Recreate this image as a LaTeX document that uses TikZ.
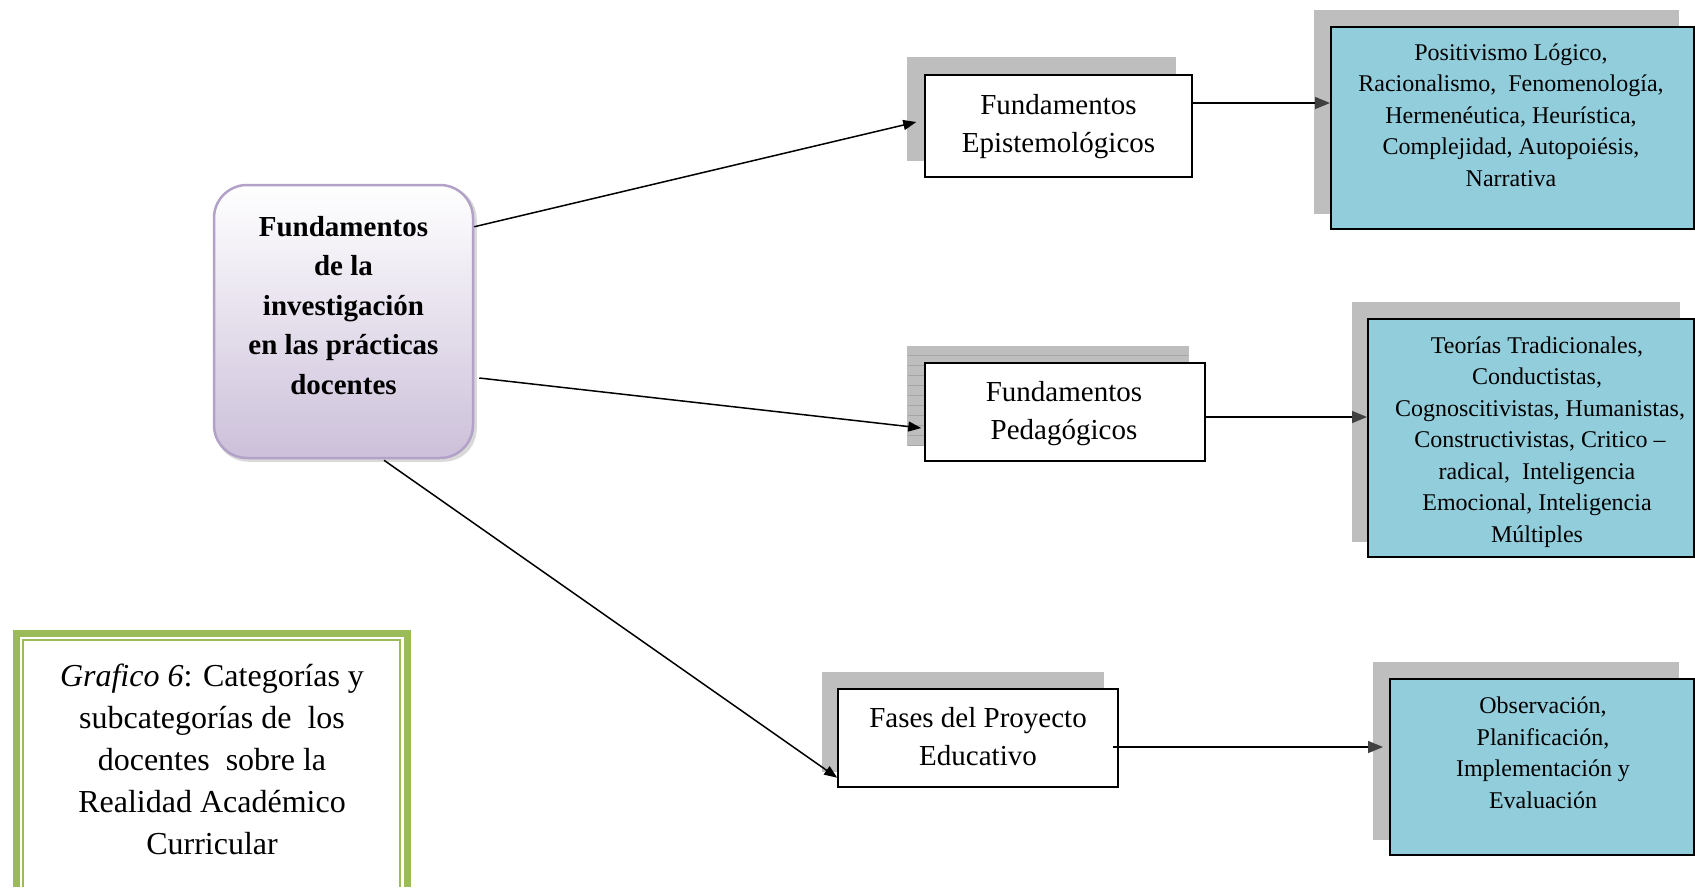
\documentclass[tikz,border=0pt]{standalone}
\usepackage{fontspec}
\setmainfont{Liberation Serif}
\usetikzlibrary{arrows.meta,backgrounds}
\definecolor{aqua}{RGB}{146,205,220}
\definecolor{shgray}{RGB}{190,190,190}
\definecolor{shline}{RGB}{165,165,165}
\definecolor{lilac}{RGB}{178,162,199}
\definecolor{lilacbot}{RGB}{204,192,218}
\definecolor{greenc}{RGB}{155,187,89}
\definecolor{arrgray}{RGB}{64,64,64}
\tikzset{
  lvltwo/.style={draw=black, line width=1.5pt, fill=white, align=center, inner sep=0pt,
    font=\fontsize{29}{38}\selectfont},
  bluebox/.style={draw=black, line width=2pt, fill=aqua, inner sep=0pt},
  bluetext/.style={align=center, inner sep=0pt, font=\fontsize{24}{31.5}\selectfont},
  mainbox/.style={draw=lilac, line width=2.5pt, rounded corners=33pt, top color=white,
    bottom color=lilacbot, minimum width=259pt, minimum height=273pt, inner sep=0pt},
  maintext/.style={align=center, inner sep=0pt, font=\fontsize{29}{39.5}\selectfont\bfseries},
  captext/.style={align=center, inner sep=0pt, font=\fontsize{32}{42}\selectfont},
  mainarr/.style={line width=1.5pt, -{Triangle[length=13pt,width=10pt]}},
  subarr/.style={line width=1.5pt, -{Triangle[length=15pt,width=12pt,color=arrgray]}},
  shadowbox/.style={fill=shgray},
}
\begin{document}
\begin{tikzpicture}[x=1pt,y=-1pt]
\useasboundingbox (0,0) rectangle (1695,887);
% main box
\node[mainbox] (main) at (343.5,321.5) {};
\node[maintext] (mt) at (343.5,305.5) {Fundamentos\\de la\\investigación\\en las prácticas\\docentes};
% level two boxes
\node[lvltwo, minimum width=267pt, minimum height=102pt] (epi) at (1058.5,126) {};
\node[lvltwo, fill=none, draw=none] (epit) at (1058.5,126.5) {Fundamentos\\Epistemológicos};
\node[lvltwo, minimum width=280pt, minimum height=98pt] (ped) at (1065,412) {};
\node[lvltwo, fill=none, draw=none] (pedt) at (1064,413.5) {Fundamentos\\Pedagógicos};
\node[lvltwo, minimum width=280pt, minimum height=98pt] (fases) at (978,738) {};
\node[lvltwo, fill=none, draw=none] (fasest) at (978,737) {Fases del Proyecto\\Educativo};
% blue boxes
\node[bluebox, minimum width=363pt, minimum height=202pt] (b1) at (1512.5,128) {};
\node[bluetext] (b1t) at (1511,115) {Positivismo Lógico,\\Racionalismo,\ \ Fenomenología,\\Hermenéutica, Heurística,\\Complejidad, Autopoiésis,\\Narrativa};
\node[bluebox, minimum width=326pt, minimum height=238pt] (b2) at (1531,438) {};
\node[bluetext] (b2t) at (1537,442) {Teorías Tradicionales,\\Conductistas,\\\ Cognoscitivistas, Humanistas,\\\ Constructivistas, Critico --\\radical,\ \ Inteligencia\\Emocional, Inteligencia\\Múltiples};
\node[bluebox, minimum width=304pt, minimum height=176pt] (b3) at (1542,767) {};
\node[bluetext] (b3t) at (1543,753) {Observación,\\Planificación,\\Implementación y\\Evaluación};
% caption
\draw[greenc, line width=7pt] (16.5,887) -- (16.5,633.5) -- (407,633.5) -- (407,887);
\draw[greenc, line width=2pt] (23,887) -- (23,640) -- (400,640) -- (400,887);
\node[captext] (cap) at (212,759) {\textit{Grafico 6}: Categorías y\\subcategorías de\ \ los\\docentes\ \ sobre la\\Realidad Académico\\Curricular};
% shadows
\begin{scope}[on background layer]
  \fill[shadowbox] ([shift={(-17,-17)}]epi.south west) rectangle ([shift={(-17,-17)}]epi.north east);
  \fill[shadowbox] ([shift={(-17,-16)}]ped.south west) rectangle ([shift={(-17,-16)}]ped.north east);
  \foreach \yy in {355,365,...,445} {
    \draw[shline, line width=0.8pt] (908,\yy) -- (1188,\yy);
  }
  \fill[shadowbox] ([shift={(-15,-16)}]fases.south west) rectangle ([shift={(-15,-16)}]fases.north east);
  \fill[shadowbox] ([shift={(-16,-16)}]b1.south west) rectangle ([shift={(-16,-16)}]b1.north east);
  \fill[shadowbox] ([shift={(-15,-16)}]b2.south west) rectangle ([shift={(-15,-16)}]b2.north east);
  \fill[shadowbox] ([shift={(-16,-16)}]b3.south west) rectangle ([shift={(-16,-16)}]b3.north east);
  \fill[gray!30, rounded corners=33pt] ([shift={(2.5,2.5)}]main.south west) rectangle ([shift={(2.5,2.5)}]main.north east);
\end{scope}
% connectors
\draw[mainarr] ([yshift=-43pt]main.north east) -- ([shift={(-8,-4)}]epi.west);
\draw[mainarr] ([shift={(5,56.5)}]main.east) -- ([shift={(-3,16)}]ped.west);
\draw[mainarr] ([shift={(40.5,1)}]main.south) -- ([shift={(0,-10)}]fases.south west);
\draw[subarr] ([yshift=23pt]epi.east) -- ([yshift=23pt]epi.east -| b1.west);
\draw[subarr] ([yshift=-5pt]ped.east) -- ([yshift=-5pt]ped.east -| b2.west);
\draw[subarr] ([shift={(-6,9)}]fases.east) -- ([shift={(-6,9)}]fases.east -| b3.west);
\end{tikzpicture}
\end{document}
